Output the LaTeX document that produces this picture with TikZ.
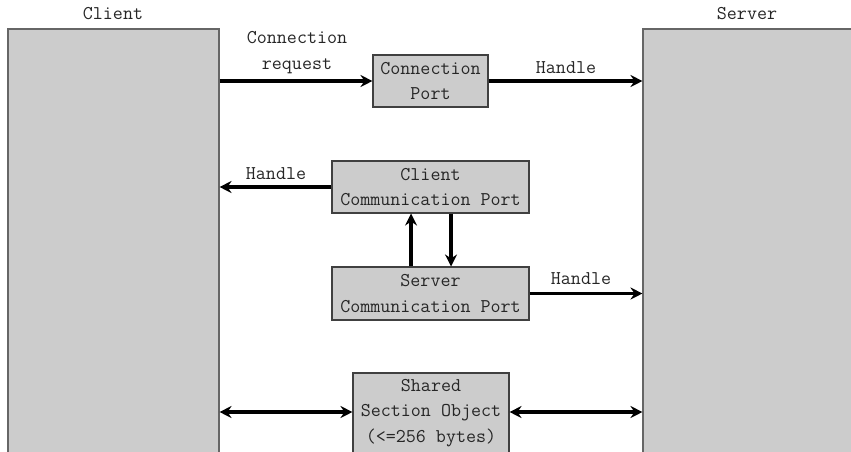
\documentclass[tikz,border=0pt]{standalone}
\usepackage{fontspec}
\usetikzlibrary{fit,arrows.meta}
\begin{document}
\begin{tikzpicture}[x=0.75pt,y=-0.75pt,
  every node/.style={font=\ttfamily\fontsize{14.6pt}{19pt}\selectfont, text=black!85},
  panel/.style={draw=black!60, line width=0.8pt, fill=black!20, inner sep=0pt},
  portbox/.style={draw=black!75, line width=0.8pt, fill=black!20, inner sep=0pt, align=center},
  lbl/.style={align=center, inner sep=0pt},
  tip/.tip={Stealth[length=9pt,width=9pt,inset=3pt]},
  arr/.style={line width=2.5pt, -tip},
  dbl/.style={line width=2.5pt, tip-tip}]
\useasboundingbox (0,0) rectangle (851,451);
\clip (0,0) rectangle (851,451);
\fill[white] (0,0) rectangle (851,451);
% panels
\node[panel, fit={(8,29) (219,470)}] (client) {};
\node[panel, fit={(643,29) (860,470)}] (server) {};
\node[lbl] (clientlbl) at (113,14) {Client};
\node[lbl] (serverlbl) at (747,14) {Server};
% boxes
\node[portbox, minimum width=86.25pt, minimum height=39pt] (cp) at (430.5,81) {Connection\\Port};
\node[portbox, minimum width=147.75pt, minimum height=39pt] (ccp) at (430.5,187) {Client\\Communication Port};
\node[portbox, minimum width=147.75pt, minimum height=39.75pt] (scp) at (430.5,293.5) {Server\\Communication Port};
\node[portbox, minimum width=117pt, minimum height=60pt] (sso) at (431,413) {Shared\\Section Object\\(<=256 bytes)};
% connectors
\draw[arr] (client.east |- cp.west) -- (cp.west);
\draw[arr] (cp.east) -- (server.west |- cp.east);
\draw[arr] (ccp.west) -- (client.east |- ccp.west);
\draw[arr] (scp.east) -- (server.west |- scp.east);
\draw[arr] ([xshift=-14.6pt]scp.north) -- ([xshift=-14.6pt]ccp.south);
\draw[arr] ([xshift=15.4pt]ccp.south) -- ([xshift=15.4pt]scp.north);
\draw[dbl] ([yshift=0.75pt]client.east |- sso.west) -- ([yshift=0.75pt]sso.west);
\draw[dbl] ([yshift=0.75pt]sso.east) -- ([yshift=0.75pt]server.west |- sso.east);
% labels
\node[lbl] (l1) at (297,52.5) {Connection\\request};
\node[lbl] (l2) at (566,68) {Handle};
\node[lbl] (l3) at (276,174) {Handle};
\node[lbl] (l4) at (581,279) {Handle};
\end{tikzpicture}
\end{document}
